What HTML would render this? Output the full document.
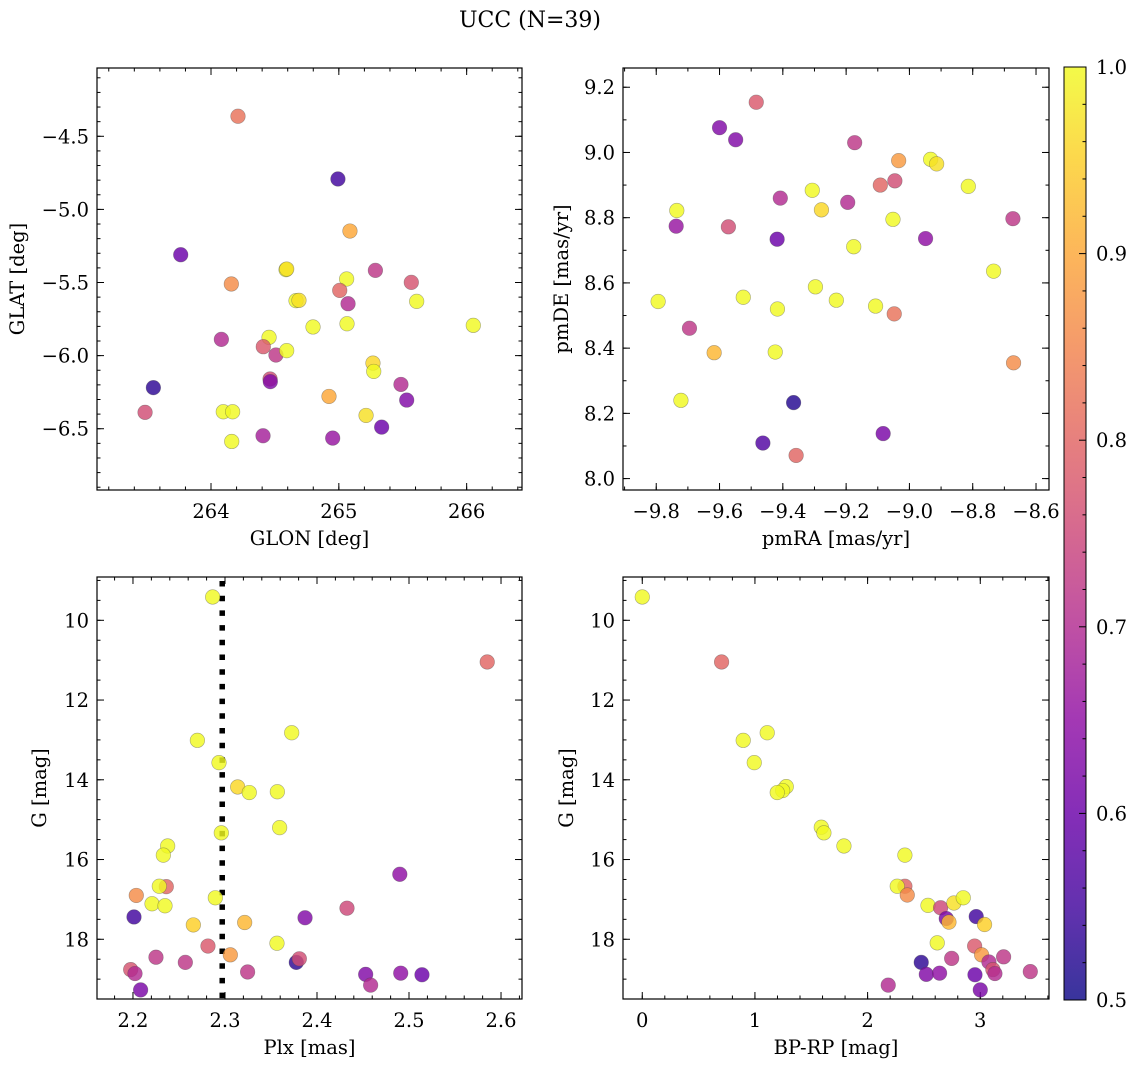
<!DOCTYPE html>
<html><head><meta charset="utf-8"><title>UCC (N=39)</title>
<style>
html,body{margin:0;padding:0;background:#fff;}
svg{display:block;font-family:"DejaVu Serif","Liberation Serif",serif;}
</style></head>
<body>
<svg id="fig" width="1136" height="1067" viewBox="0 0 1136 1067" xmlns="http://www.w3.org/2000/svg">
<rect x="0" y="0" width="1136" height="1067" fill="#fff"/>
<text x="530" y="27" font-size="22" text-anchor="middle">UCC (N=39)</text>
</svg>
<script>
// ---------- data ----------
const glon = [264.211,264.993,263.763,265.087,264.159,264.587,264.592,265.061,265.286,265.567,265.007,264.665,264.688,265.072,265.609,264.798,265.064,266.052,264.081,264.454,264.409,264.508,264.592,265.267,265.273,264.462,264.464,263.549,265.486,264.923,265.531,264.096,264.169,263.484,265.213,265.335,264.407,264.952,264.162];
const glat = [-4.363,-4.792,-5.310,-5.148,-5.510,-5.412,-5.408,-5.476,-5.417,-5.499,-5.554,-5.624,-5.622,-5.645,-5.629,-5.804,-5.782,-5.793,-5.889,-5.875,-5.939,-5.996,-5.966,-6.051,-6.108,-6.160,-6.178,-6.219,-6.197,-6.279,-6.304,-6.384,-6.384,-6.388,-6.409,-6.489,-6.548,-6.564,-6.587];
const probPos = [0.82,0.55,0.6,0.9,0.86,1.0,0.97,1.0,0.72,0.77,0.8,1.0,0.97,0.7,1.0,1.0,1.0,1.0,0.7,1.0,0.78,0.72,1.0,0.96,1.0,0.76,0.63,0.53,0.7,0.9,0.63,1.0,1.0,0.76,0.97,0.6,0.68,0.66,1.0];

const pmra = [-9.484,-9.600,-9.549,-9.173,-9.034,-8.933,-8.914,-9.092,-9.046,-8.814,-9.307,-9.408,-9.195,-9.735,-9.278,-9.737,-9.572,-9.418,-9.052,-8.673,-8.949,-9.176,-8.734,-9.794,-9.525,-9.297,-9.231,-9.417,-9.107,-9.048,-9.695,-9.617,-9.424,-8.671,-9.722,-9.366,-9.463,-9.083,-9.358];
const pmde = [9.154,9.076,9.039,9.030,8.975,8.979,8.965,8.900,8.913,8.896,8.884,8.860,8.847,8.822,8.824,8.774,8.772,8.734,8.795,8.797,8.736,8.711,8.636,8.543,8.556,8.588,8.547,8.520,8.529,8.505,8.461,8.386,8.388,8.355,8.240,8.233,8.109,8.138,8.071];
const probPm = [0.78,0.63,0.63,0.72,0.88,1.0,0.97,0.8,0.76,1.0,1.0,0.7,0.7,1.0,0.96,0.66,0.76,0.6,1.0,0.72,0.65,1.0,1.0,1.0,1.0,1.0,1.0,1.0,1.0,0.82,0.72,0.92,1.0,0.86,1.0,0.52,0.57,0.62,0.8];

const plx = [2.2866,2.585,2.270,2.3725,2.2935,2.3138,2.3264,2.3569,2.296,2.3594,2.2377,2.233,2.2362,2.2286,2.2036,2.2207,2.2348,2.2895,2.490,2.2011,2.2656,2.3214,2.387,2.4326,2.3565,2.2815,2.3058,2.225,2.2569,2.3775,2.3808,2.1975,2.2022,2.3246,2.4529,2.491,2.5141,2.4583,2.2083];
const gPlx = [9.415,11.045,13.01,12.82,13.57,14.18,14.32,14.30,15.33,15.20,15.66,15.89,16.68,16.67,16.90,17.11,17.16,16.96,16.37,17.44,17.64,17.58,17.46,17.22,18.10,18.17,18.39,18.45,18.58,18.58,18.49,18.76,18.86,18.82,18.88,18.85,18.89,19.15,19.27];
const probPlx = [1.0,0.8,1.0,1.0,1.0,0.96,1.0,1.0,1.0,1.0,1.0,1.0,0.8,1.0,0.86,1.0,1.0,1.0,0.65,0.55,0.95,0.92,0.63,0.75,1.0,0.78,0.88,0.72,0.72,0.53,0.76,0.77,0.7,0.72,0.63,0.65,0.6,0.7,0.62];
const plxLine = 2.297;

const bprp = [0,0.704,0.896,1.109,0.994,1.278,1.246,1.198,1.589,1.612,1.790,2.331,2.331,2.263,2.352,2.536,2.648,2.766,2.849,2.964,2.698,2.722,3.038,2.618,2.950,3.012,3.207,2.746,2.476,3.077,3.112,3.130,3.444,2.521,2.639,2.953,2.183,3.0];
const gCmd = [9.415,11.045,13.01,12.82,13.57,14.17,14.27,14.32,15.19,15.33,15.66,15.89,16.67,16.67,16.89,17.15,17.21,17.09,16.96,17.43,17.48,17.57,17.63,18.09,18.17,18.39,18.44,18.48,18.58,18.57,18.76,18.86,18.81,18.88,18.85,18.89,19.15,19.27];
const probCmd = [1.0,0.8,1.0,1.0,1.0,1.0,1.0,1.0,1.0,1.0,1.0,1.0,0.8,1.0,0.86,1.0,0.75,0.97,1.0,0.55,0.62,0.92,0.95,1.0,0.78,0.88,0.72,0.72,0.53,0.7,0.77,0.7,0.72,0.63,0.65,0.6,0.7,0.62];

const cbarTicks = ["0.5","0.6","0.7","0.8","0.9","1.0"];

// ---------- helpers ----------
const NS = "http://www.w3.org/2000/svg";
const svg = document.getElementById("fig");
const FS = 19.5;
function mk(tag, attrs, parent){ const e=document.createElementNS(NS,tag); for(const k in attrs) e.setAttribute(k,attrs[k]); (parent||svg).appendChild(e); return e; }
const stops = ["#0d0887","#41049d","#6a00a8","#8f0da4","#b12a90","#cc4778","#e16462","#f2844b","#fca636","#fcce25","#f0f921"];
function hex(h){return [parseInt(h.substr(1,2),16),parseInt(h.substr(3,2),16),parseInt(h.substr(5,2),16)];}
function plasma(t){ t=Math.max(0,Math.min(1,t)); const f=t*10, i=Math.min(9,Math.floor(f)), r=f-i; const a=hex(stops[i]), b=hex(stops[i+1]); return "rgb("+a.map((v,k)=>Math.round(v+(b[k]-v)*r)).join(",")+")"; }
function pcol(p){ return plasma((p-0.5)/0.5); }
function fmt(v,dec){ const s=v.toFixed(dec); return s.replace("-","\u2212"); }

function panel(cfg){
  const g = mk("g",{});
  
  
  const {x0,x1,y0,y1} = cfg.box;
  const sx = v => x0 + (v-cfg.xr[0])/(cfg.xr[1]-cfg.xr[0])*(x1-x0);
  const sy = cfg.yinv ? (v => y0 + (v-cfg.yr[0])/(cfg.yr[1]-cfg.yr[0])*(y1-y0))
                      : (v => y1 - (v-cfg.yr[0])/(cfg.yr[1]-cfg.yr[0])*(y1-y0));
  const tg = mk("g",{stroke:"#000","stroke-width":1},g);
  
  
  const eps=1e-9;
  function each(r,step,fn){ const s=Math.ceil((r[0]-eps)/step); for(let k=s; k*step<=r[1]+eps; k++) fn(k*step); }
  each(cfg.xr,cfg.xminor,v=>{const X=sx(v); mk("line",{x1:X,x2:X,y1:y1,y2:y1-3.5},tg); mk("line",{x1:X,x2:X,y1:y0,y2:y0+3.5},tg);});
  each(cfg.yr,cfg.yminor,v=>{const Y=sy(v); mk("line",{x1:x0,x2:x0+3.5,y1:Y,y2:Y},tg); mk("line",{x1:x1,x2:x1-3.5,y1:Y,y2:Y},tg);});
  cfg.xticks.forEach(v=>{const X=sx(v); mk("line",{x1:X,x2:X,y1:y1,y2:y1-7},tg); mk("line",{x1:X,x2:X,y1:y0,y2:y0+7},tg);
    const t=mk("text",{x:X,y:y1+28,"font-size":FS,"text-anchor":"middle"},g); t.textContent=fmt(v,cfg.xdec);
     });
  cfg.yticks.forEach(v=>{const Y=sy(v); mk("line",{x1:x0,x2:x0+7,y1:Y,y2:Y},tg); mk("line",{x1:x1,x2:x1-7,y1:Y,y2:Y},tg);
    const t=mk("text",{x:x0-8,y:Y+7,"font-size":FS,"text-anchor":"end"},g); t.textContent=fmt(v,cfg.ydec);
     });
  if(cfg.vline!==undefined){ const X=sx(cfg.vline);
    const l=mk("line",{x1:X,x2:X,y1:y0+4,y2:y1,stroke:"#000","stroke-width":5.5,"stroke-dasharray":"5.5 9.2"},g);
      }
  const pg = mk("g",{},g);
  
  
  cfg.xs.forEach((xv,i)=>{
    const c=mk("circle",{cx:sx(xv),cy:sy(cfg.ys[i]),r:7.3,fill:pcol(cfg.ps[i]),"fill-opacity":0.82,stroke:"#444","stroke-opacity":0.45,"stroke-width":0.6},pg);
    
    
  });
  const fr=mk("rect",{x:x0,y:y0,width:x1-x0,height:y1-y0,fill:"none",stroke:"#000","stroke-width":1.2},g);
   
  const xl=mk("text",{x:(x0+x1)/2,y:y1+55,"font-size":FS,"text-anchor":"middle"},g); xl.textContent=cfg.xlabel;
   
  const yx=cfg.ylx, yc=(y0+y1)/2;
  const yl=mk("text",{x:yx,y:yc,"font-size":FS,"text-anchor":"middle",transform:"rotate(-90 "+yx+" "+yc+")"},g); yl.textContent=cfg.ylabel;
   
}

panel({name:"glon-glat-panel",box:{x0:97,x1:522,y0:68,y1:490},xr:[263.108,266.433],yr:[-6.919,-4.033],
  xticks:[264,265,266],xminor:0.2,xdec:0,yticks:[-6.5,-6.0,-5.5,-5.0,-4.5],yminor:0.1,ydec:1,
  xs:glon,ys:glat,ps:probPos,xlabel:"GLON [deg]",ylabel:"GLAT [deg]",ylx:24});
panel({name:"proper-motion-panel",box:{x0:623,x1:1049,y0:68,y1:490},xr:[-9.905,-8.559],yr:[7.965,9.259],
  xticks:[-9.8,-9.6,-9.4,-9.2,-9.0,-8.8,-8.6],xminor:0.1,xdec:1,yticks:[8.0,8.2,8.4,8.6,8.8,9.0,9.2],yminor:0.1,ydec:1,
  xs:pmra,ys:pmde,ps:probPm,xlabel:"pmRA [mas/yr]",ylabel:"pmDE [mas/yr]",ylx:568});
panel({name:"plx-g-panel",box:{x0:97,x1:522,y0:577,y1:999},xr:[2.1609,2.6228],yr:[8.914,19.498],yinv:true,
  xticks:[2.2,2.3,2.4,2.5,2.6],xminor:0.02,xdec:1,yticks:[10,12,14,16,18],yminor:0.5,ydec:0,
  xs:plx,ys:gPlx,ps:probPlx,vline:plxLine,xlabel:"Plx [mas]",ylabel:"G [mag]",ylx:46});
panel({name:"cmd-panel",box:{x0:623,x1:1049,y0:577,y1:999},xr:[-0.171,3.610],yr:[8.914,19.498],yinv:true,
  xticks:[0,1,2,3],xminor:0.2,xdec:0,yticks:[10,12,14,16,18],yminor:0.5,ydec:0,
  xs:bprp,ys:gCmd,ps:probCmd,xlabel:"BP-RP [mag]",ylabel:"G [mag]",ylx:573});

// ---------- colorbar ----------
(function(){
  const cx0=1064,cx1=1086,cy0=67,cy1=1000;
  const cg=mk("g",{});
  
  
  const defs=mk("defs",{},cg);
  const lg=mk("linearGradient",{id:"cbg",x1:0,y1:1,x2:0,y2:0},defs);
  for(let i=0;i<=20;i++){ mk("stop",{offset:(i/20),"stop-color":plasma(i/20),"stop-opacity":0.82},lg); }
  const r=mk("rect",{x:cx0,y:cy0,width:cx1-cx0,height:cy1-cy0,fill:"url(#cbg)",stroke:"#000","stroke-width":1},cg);
   
  const sy=v=>cy1-(v-0.5)/0.5*(cy1-cy0);
  for(let k=25;k<=50;k++){ const v=k*0.02, Y=sy(v); const major=(k%5===0);
    mk("line",{x1:cx1,x2:cx1-(major?7:3.5),y1:Y,y2:Y,stroke:"#000","stroke-width":1},cg); }
  cbarTicks.forEach(s=>{ const v=parseFloat(s);
    const t=mk("text",{x:cx1+10,y:sy(v)+7,"font-size":FS},cg); t.textContent=s;
      });
})();
</script>
</body></html>
